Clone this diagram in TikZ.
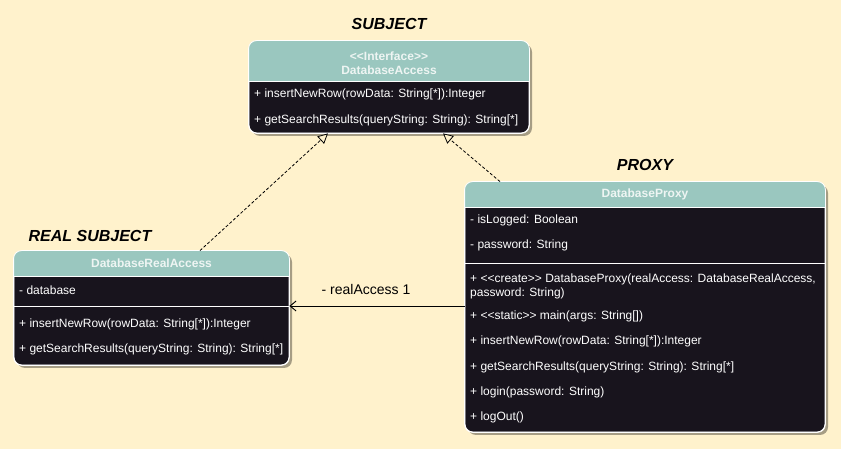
\documentclass[tikz,border=0pt]{standalone}
\usepackage{fontspec}
\setmainfont{Liberation Sans}
\usetikzlibrary{arrows.meta,shadows,calc}
\definecolor{bg}{HTML}{FFF2CC}
\definecolor{hdr}{HTML}{9AC7BF}
\definecolor{body}{HTML}{18141D}
\definecolor{hdrtxt}{HTML}{EEF5F3}
\newcommand{\dlt}{<\kern0pt<}
\newcommand{\dgt}{>\kern0pt>}
\tikzset{
  x=1pt,y=1pt,
  cls/.style={draw=white, line width=0.8pt, fill=body, rounded corners=8pt, inner sep=0pt,
    drop shadow={shadow xshift=3pt, shadow yshift=-3pt, fill=black, opacity=0.35}},
  row/.style={anchor=west, text=white, inner sep=0pt, font=\fontsize{12}{14}\selectfont},
  hdrtext/.style={text=hdrtxt, inner sep=0pt, font=\bfseries\fontsize{12}{14}\selectfont, align=center},
  role/.style={inner sep=0pt, font=\bfseries\itshape\fontsize{16}{18}\selectfont},
  sep/.style={draw=white, line width=0.8pt},
  real/.style={dashed, line width=0.8pt, dash pattern=on 3pt off 2pt, -{Triangle[open,length=10pt,width=10pt,fill=bg]}},
  assoc/.style={line width=0.9pt, -{Straight Barb[length=6pt,width=10pt]}}
}
\begin{document}
\begin{tikzpicture}
\fill[bg] (0,0) rectangle (841,449);
\useasboundingbox (0,0) rectangle (841,449);

% DatabaseAccess
\node[cls, minimum width=280pt, minimum height=92pt] (acc) at (389,362) {};
\begin{scope}
\clip[rounded corners=8pt] (acc.south west) rectangle (acc.north east);
\fill[hdr] (acc.north west) rectangle (acc.east |- 0,368);
\end{scope}
\draw[draw=white, line width=0.8pt, rounded corners=8pt] (acc.south west) rectangle (acc.north east);
\draw[sep] (acc.west |- 0,368) -- (acc.east |- 0,368);
\node[hdrtext] (accH) at (389,386) {\dlt Interface\dgt\\DatabaseAccess};
\node[row] (acc1) at (254,355) {+ insertNewRow(rowData: String[*]):Integer};
\node[row] (acc2) at (254,329) {+ getSearchResults(queryString: String): String[*]};

% DatabaseProxy
\node[cls, minimum width=360pt, minimum height=250pt] (proxy) at (645,142) {};
\begin{scope}
\clip[rounded corners=8pt] (proxy.south west) rectangle (proxy.north east);
\fill[hdr] (proxy.north west) rectangle (proxy.east |- 0,242);
\end{scope}
\draw[draw=white, line width=0.8pt, rounded corners=8pt] (proxy.south west) rectangle (proxy.north east);
\draw[sep] (proxy.west |- 0,242) -- (proxy.east |- 0,242);
\draw[sep] (proxy.west |- 0,186) -- (proxy.east |- 0,186);
\node[hdrtext] (proxyH) at (645,255) {DatabaseProxy};
\node[row] (p1) at (470,229) {- isLogged: Boolean};
\node[row] (p2) at (470,204) {- password: String};
\node[row, align=left, anchor=north west] (p3) at (470,175) {+ \dlt create\dgt{} DatabaseProxy(realAccess: DatabaseRealAccess,\\password: String)};
\node[row] (p4) at (470,133) {+ \dlt static\dgt{} main(args: String[])};
\node[row] (p5) at (470,108) {+ insertNewRow(rowData: String[*]):Integer};
\node[row] (p6) at (470,82) {+ getSearchResults(queryString: String): String[*]};
\node[row] (p7) at (470,57) {+ login(password: String)};
\node[row] (p8) at (470,32) {+ logOut()};

% DatabaseRealAccess
\node[cls, minimum width=275pt, minimum height=114pt] (real) at (151.5,141) {};
\begin{scope}
\clip[rounded corners=8pt] (real.south west) rectangle (real.north east);
\fill[hdr] (real.north west) rectangle (real.east |- 0,173);
\end{scope}
\draw[draw=white, line width=0.8pt, rounded corners=8pt] (real.south west) rectangle (real.north east);
\draw[sep] (real.west |- 0,173) -- (real.east |- 0,173);
\draw[sep] (real.west |- 0,143) -- (real.east |- 0,143);
\node[hdrtext] (realH) at (151.5,186) {DatabaseRealAccess};
\node[row] (r1) at (19,159) {- database};
\node[row] (r2) at (19,125) {+ insertNewRow(rowData: String[*]):Integer};
\node[row] (r3) at (19,100) {+ getSearchResults(queryString: String): String[*]};

% role labels
\node[role] (lsub) at (389,425) {SUBJECT};
\node[role] (lprox) at (645,284) {PROXY};
\node[role] (lreal) at (90,213) {REAL SUBJECT};

% connectors
\coordinate (rtop) at ([xshift=48.5pt]real.north);
\coordinate (atl) at ([xshift=-61pt]acc.south);
\coordinate (atr) at ([xshift=54pt]acc.south);
\coordinate (ptop) at ([xshift=-145pt]proxy.north);
\draw[real] (rtop) -- (atl);
\draw[real] (ptop) -- (atr);
\draw[assoc] (proxy.west |- 0,143) -- (real.east |- 0,143);
\node[inner sep=0pt, font=\fontsize{14}{16}\selectfont] (lbl) at (366,159) {- realAccess 1};
\end{tikzpicture}
\end{document}
